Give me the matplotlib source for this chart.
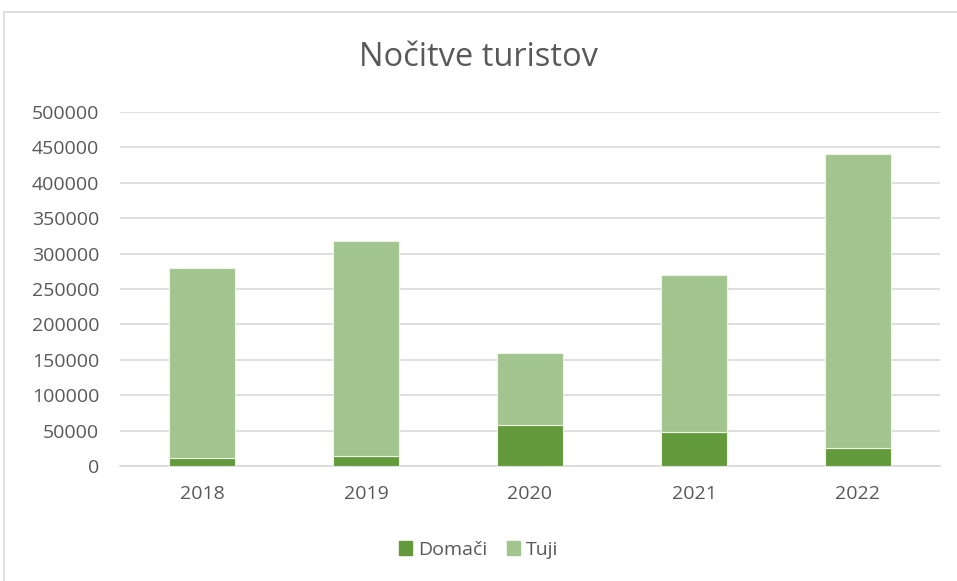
import matplotlib
matplotlib.use("Agg")
import matplotlib.pyplot as plt
from matplotlib.patches import Rectangle, Patch

years = ["2018", "2019", "2020", "2021", "2022"]
domaci = [12000, 14500, 58000, 48000, 26000]
tuji = [268000, 303500, 101000, 222000, 415000]
yticks = [0, 50000, 100000, 150000, 200000, 250000, 300000, 350000, 400000, 450000, 500000]

plt.rcParams['font.family'] = ['Open Sans', 'DejaVu Sans']
fig = plt.figure(figsize=(9.57, 5.81), dpi=100)
fig.patches.append(Rectangle((4/957, -0.01), 1.0, 1 - 12/581 + 0.01, transform=fig.transFigure,
                             fill=False, edgecolor='#D9D9D9', linewidth=1.2))

ax = fig.add_axes([120/957, 1 - 466/581, 820/957, 354/581])
x = list(range(len(years)))
dark = '#629A3C'
light = '#A2C48F'
ax.bar(x, domaci, width=0.4, color=dark, edgecolor='#EEF4EA', linewidth=0.8, zorder=3)
ax.bar(x, tuji, bottom=domaci, width=0.4, color=light, edgecolor='#EEF4EA', linewidth=0.8, zorder=3)
ax.set_xlim(-0.5, 4.5)
ax.set_ylim(0, 500000)
ax.set_yticks(yticks)
ax.set_yticklabels([str(v) for v in yticks])
ax.set_xticks(x)
ax.set_xticklabels(years)
ax.yaxis.grid(True, color='#D9D9D9', linewidth=1.2, zorder=0)
ax.set_axisbelow(True)
for s in ['left', 'right', 'top']:
    ax.spines[s].set_visible(False)
ax.spines['bottom'].set_color('#D9D9D9')
ax.spines['bottom'].set_linewidth(1.2)
ax.tick_params(axis='both', length=0, labelsize=14, labelcolor='#595959')
ax.tick_params(axis='x', pad=14)
ax.tick_params(axis='y', pad=15)

fig.text(0.5, 1 - 58/581, "Nočitve turistov", ha='center', va='center', fontsize=23.5, color='#595959')

handles = [Patch(color=dark, label='Domači'), Patch(color=light, label='Tuji')]
fig.legend(handles=handles, loc='center', bbox_to_anchor=(0.5, 1 - 550/581), ncol=2, frameon=False,
           fontsize=14, labelcolor='#595959', handlelength=0.7, handleheight=0.7,
           handletextpad=0.3, columnspacing=1.0)

fig.savefig("out.png", dpi=100)
